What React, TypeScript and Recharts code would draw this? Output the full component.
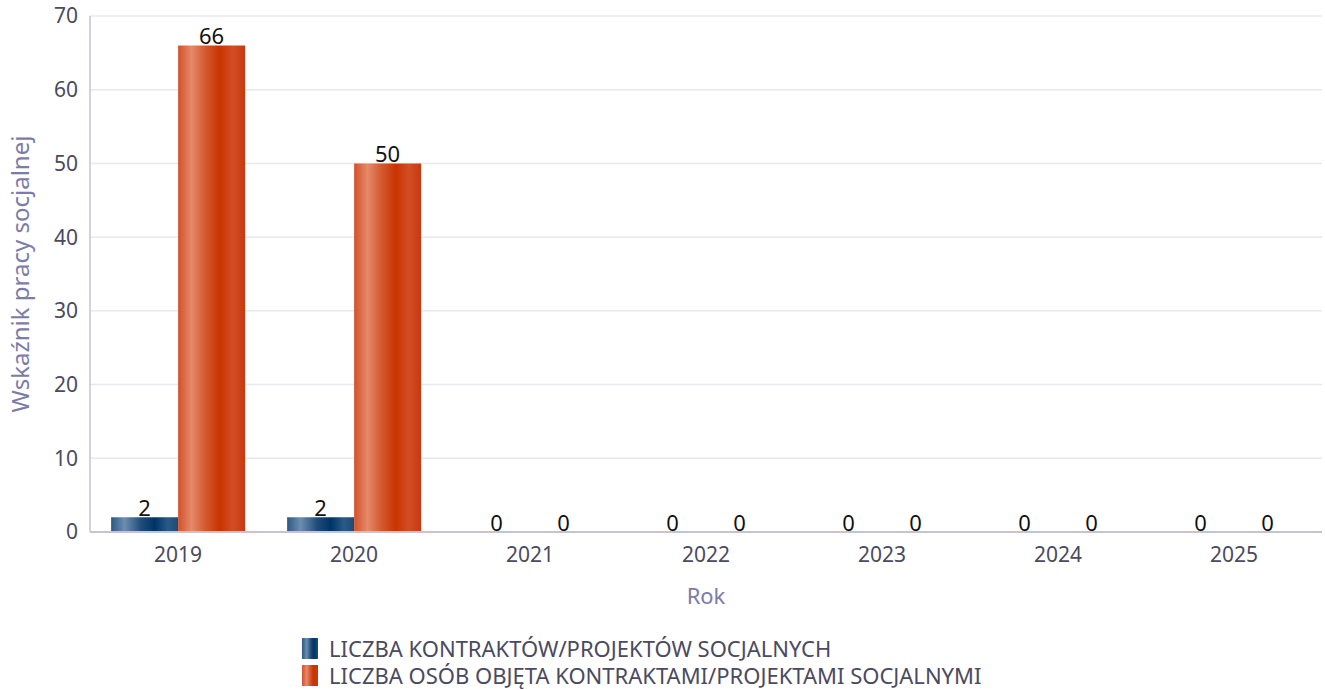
import { BarChart, Bar, XAxis, YAxis, CartesianGrid, LabelList } from "recharts";

const years = ["2019", "2020", "2021", "2022", "2023", "2024", "2025"];
const contracts = [2, 2, 0, 0, 0, 0, 0];
const people = [66, 50, 0, 0, 0, 0, 0];
const yTicks = [0, 10, 20, 30, 40, 50, 60, 70];

const seriesNames = [
  "LICZBA KONTRAKTÓW/PROJEKTÓW SOCJALNYCH",
  "LICZBA OSÓB OBJĘTA KONTRAKTAMI/PROJEKTAMI SOCJALNYMI",
];

const data = years.map((year, i) => ({
  year,
  contracts: contracts[i],
  people: people[i],
}));

const FONT = "'Noto Sans', 'Open Sans', sans-serif";
const tickStyle = { fontFamily: FONT, fontSize: 21, fill: "#4a4a60" };
const valueStyle = { fontFamily: FONT, fontSize: 22, fill: "#111" };

const legendFills = [
  "linear-gradient(90deg, #2b5a85 0%, #6d8eae 30%, #1f4c7a 55%, #003466 75%, #1e4a78 100%)",
  "linear-gradient(90deg, #d4502a 0%, #e58a6a 30%, #d45a30 50%, #c93400 70%, #c43a10 100%)",
];

export default function App() {
  return (
    <div style={{ position: "absolute", left: 0, top: 0, width: 1325, height: 690, background: "#fff" }}>
      <BarChart
        width={1325}
        height={690}
        data={data}
        margin={{ top: 16, right: 3, left: 0, bottom: 78 }}
        barCategoryGap="12%"
        barGap={0}
      >
        <defs>
          <linearGradient id="gBlue" x1="0" y1="0" x2="1" y2="0">
            <stop offset="0%" stopColor="#2b5a85" />
            <stop offset="20%" stopColor="#6d8eae" />
            <stop offset="45%" stopColor="#1f4c7a" />
            <stop offset="65%" stopColor="#003466" />
            <stop offset="85%" stopColor="#2b5a85" />
            <stop offset="100%" stopColor="#1e4a78" />
          </linearGradient>
          <linearGradient id="gOrange" x1="0" y1="0" x2="1" y2="0">
            <stop offset="0%" stopColor="#d4502a" />
            <stop offset="20%" stopColor="#e58a6a" />
            <stop offset="40%" stopColor="#d45a30" />
            <stop offset="62%" stopColor="#c93400" />
            <stop offset="82%" stopColor="#d24e26" />
            <stop offset="100%" stopColor="#c43a10" />
          </linearGradient>
        </defs>
        <CartesianGrid vertical={false} stroke="#e8e8f0" strokeWidth={1.5} />
        <XAxis
          dataKey="year"
          height={80}
          tick={tickStyle}
          tickLine={false}
          axisLine={{ stroke: "#c4c4d4", strokeWidth: 2 }}
          tickMargin={9}
          label={{
            value: "Rok",
            position: "insideBottom",
            offset: 8,
            style: { fontFamily: FONT, fontSize: 22, fill: "#7c7ca8" },
          }}
        />
        <YAxis
          width={90}
          domain={[0, 70]}
          ticks={yTicks}
          tick={tickStyle}
          tickLine={false}
          axisLine={{ stroke: "#c4c4d4", strokeWidth: 1.5 }}
          tickMargin={6}
          label={{
            value: "Wskaźnik pracy socjalnej",
            angle: -90,
            position: "insideLeft",
            offset: 20,
            style: { fontFamily: FONT, fontSize: 24, fill: "#7c7ca8", textAnchor: "middle" },
          }}
        />
        <Bar dataKey="contracts" name={seriesNames[0]} fill="url(#gBlue)" minPointSize={0.01} isAnimationActive={false}>
          <LabelList dataKey="contracts" position="top" offset={1} style={valueStyle} />
        </Bar>
        <Bar dataKey="people" name={seriesNames[1]} fill="url(#gOrange)" minPointSize={0.01} isAnimationActive={false}>
          <LabelList dataKey="people" position="top" offset={1} style={valueStyle} />
        </Bar>
      </BarChart>
      <div style={{ position: "absolute", left: 302, top: 635, fontFamily: FONT, fontSize: 22, color: "#4a4a60", lineHeight: "27px" }}>
        {seriesNames.map((name, i) => (
          <div key={name} style={{ display: "flex", alignItems: "center", height: 27 }}>
            <span style={{ display: "inline-block", width: 16, height: 21, background: legendFills[i], marginRight: 11 }} />
            <span>{name}</span>
          </div>
        ))}
      </div>
    </div>
  );
}
